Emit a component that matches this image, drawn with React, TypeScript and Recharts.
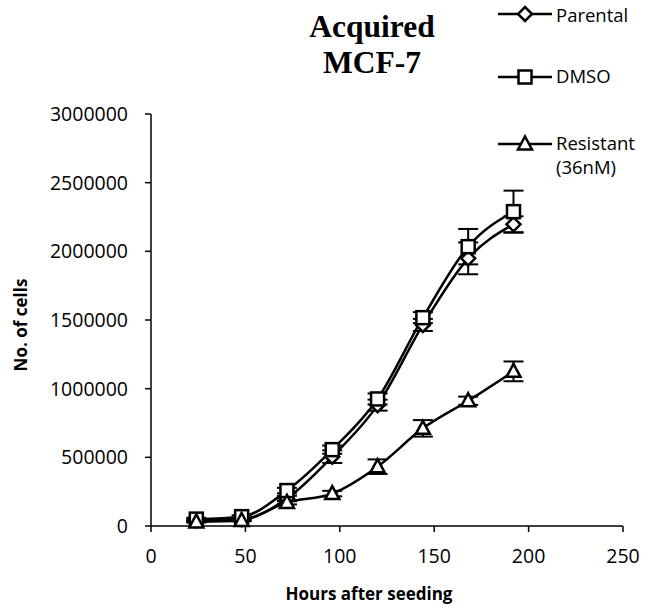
import React from 'react';
import { LineChart, Line, XAxis, YAxis, ErrorBar } from 'recharts';

const hours = [24, 48, 72, 96, 120, 144, 168, 192];
const parental = [40000, 50000, 200000, 505000, 880000, 1464000, 1949000, 2197000];
const parentalErr = [10000, 10000, 20000, 46000, 40000, 44000, 116000, 58000];
const dmso = [50000, 68000, 258000, 556000, 925000, 1517000, 2034000, 2289000];
const dmsoErr = [10000, 10000, 20000, 30000, 40000, 40000, 129000, 153000];
const resistant = [30000, 40000, 172000, 236000, 432000, 711000, 912000, 1126000];
const resistantErr = [5000, 5000, 15000, 20000, 53000, 60000, 30000, 72000];
const xTicks = [0, 50, 100, 150, 200, 250];
const yTicks = [0, 500000, 1000000, 1500000, 2000000, 2500000, 3000000];

const data = hours.map((h, i) => ({
  hours: h,
  parental: parental[i],
  parentalErr: parentalErr[i],
  dmso: dmso[i],
  dmsoErr: dmsoErr[i],
  resistant: resistant[i],
  resistantErr: resistantErr[i],
}));

const FONT = '"Open Sans", sans-serif';
const SW = 2.5;

const diamondPts = (cx: number, cy: number) =>
  `${cx},${cy - 7} ${cx + 7},${cy} ${cx},${cy + 7} ${cx - 7},${cy}`;
const trianglePts = (cx: number, cy: number) =>
  `${cx},${cy - 7.5} ${cx + 7},${cy + 5.5} ${cx - 7},${cy + 5.5}`;

const DiamondDot = (p: any) => (
  <polygon key={p.key ?? `d${p.index}`} points={diamondPts(p.cx, p.cy)} fill="#fff" stroke="#000" strokeWidth={SW} />
);
const SquareDot = (p: any) => (
  <rect key={p.key ?? `s${p.index}`} x={p.cx - 6.5} y={p.cy - 6.5} width={13} height={13} fill="#fff" stroke="#000" strokeWidth={SW} />
);
const TriangleDot = (p: any) => (
  <polygon key={p.key ?? `t${p.index}`} points={trianglePts(p.cx, p.cy)} fill="#fff" stroke="#000" strokeWidth={SW} strokeLinejoin="miter" />
);

const YLabel = (props: any) => {
  const vb = props.viewBox || { x: 0, y: 114, width: 151, height: 412 };
  const cx = vb.x + 27;
  const cy = vb.y + vb.height / 2 + 5;
  return (
    <text x={cx} y={cy} transform={`rotate(-90, ${cx}, ${cy})`} textAnchor="middle" fontFamily={FONT} fontWeight="bold" fontSize={17} fill="#000">
      No. of cells
    </text>
  );
};

const XLabel = (props: any) => {
  const vb = props.viewBox || { x: 151, y: 526, width: 472, height: 85 };
  return (
    <text x={vb.x + vb.width / 2 - 18} y={vb.y + 74} textAnchor="middle" fontFamily={FONT} fontWeight="bold" fontSize={17} fill="#000">
      Hours after seeding
    </text>
  );
};

export default function App() {
  return (
    <div style={{ position: 'absolute', left: 0, top: 0, width: 656, height: 611, background: '#fff' }}>
      <LineChart width={656} height={611} data={data} margin={{ top: 114, right: 33, bottom: 0, left: 0 }}>
        <XAxis
          dataKey="hours"
          type="number"
          domain={[0, 250]}
          ticks={xTicks}
          allowDataOverflow
          height={85}
          tickSize={6}
          tickMargin={17}
          axisLine={{ stroke: '#000', strokeWidth: 1.5 }}
          tickLine={{ stroke: '#000', strokeWidth: 1.5 }}
          tick={{ fill: '#000', fontSize: 19.5, fontFamily: FONT }}
          label={<XLabel />}
        />
        <YAxis
          type="number"
          domain={[0, 3000000]}
          ticks={yTicks}
          width={151}
          tickSize={6}
          tickMargin={17}
          axisLine={{ stroke: '#000', strokeWidth: 1.5 }}
          tickLine={{ stroke: '#000', strokeWidth: 1.5 }}
          tick={{ fill: '#000', fontSize: 19.5, fontFamily: FONT }}
          label={<YLabel />}
        />
        <Line dataKey="parental" name="Parental" type="monotone" stroke="#000" strokeWidth={SW} dot={DiamondDot} activeDot={false} isAnimationActive={false}>
          <ErrorBar dataKey="parentalErr" direction="y" width={10} stroke="#000" strokeWidth={2} />
        </Line>
        <Line dataKey="dmso" name="DMSO" type="monotone" stroke="#000" strokeWidth={SW} dot={SquareDot} activeDot={false} isAnimationActive={false}>
          <ErrorBar dataKey="dmsoErr" direction="y" width={10} stroke="#000" strokeWidth={2} />
        </Line>
        <Line dataKey="resistant" name="Resistant (36nM)" type="monotone" stroke="#000" strokeWidth={SW} dot={TriangleDot} activeDot={false} isAnimationActive={false}>
          <ErrorBar dataKey="resistantErr" direction="y" width={10} stroke="#000" strokeWidth={2} />
        </Line>
      </LineChart>
      <svg width={656} height={180} style={{ position: 'absolute', left: 0, top: 0, pointerEvents: 'none' }}>
        <text x={372} y={37} textAnchor="middle" fontFamily='"Liberation Serif", "Times New Roman", serif' fontWeight="bold" fontSize={31.5} fill="#000">Acquired</text>
        <text x={372} y={73} textAnchor="middle" fontFamily='"Liberation Serif", "Times New Roman", serif' fontWeight="bold" fontSize={31.5} fill="#000">MCF-7</text>
        <line x1={498} x2={552} y1={14} y2={14} stroke="#000" strokeWidth={SW} />
        <polygon points={diamondPts(525, 14)} fill="#fff" stroke="#000" strokeWidth={SW} />
        <text x={556} y={22} fontFamily={FONT} fontSize={18.5} fill="#000">Parental</text>
        <line x1={498} x2={552} y1={77} y2={77} stroke="#000" strokeWidth={SW} />
        <rect x={518.5} y={70.5} width={13} height={13} fill="#fff" stroke="#000" strokeWidth={SW} />
        <text x={556} y={83} fontFamily={FONT} fontSize={18.5} fill="#000">DMSO</text>
        <line x1={498} x2={552} y1={144} y2={144} stroke="#000" strokeWidth={SW} />
        <polygon points={trianglePts(525, 144)} fill="#fff" stroke="#000" strokeWidth={SW} />
        <text x={556} y={150} fontFamily={FONT} fontSize={18.5} fill="#000">Resistant</text>
        <text x={556} y={174} fontFamily={FONT} fontSize={18.5} fill="#000">(36nM)</text>
      </svg>
    </div>
  );
}
